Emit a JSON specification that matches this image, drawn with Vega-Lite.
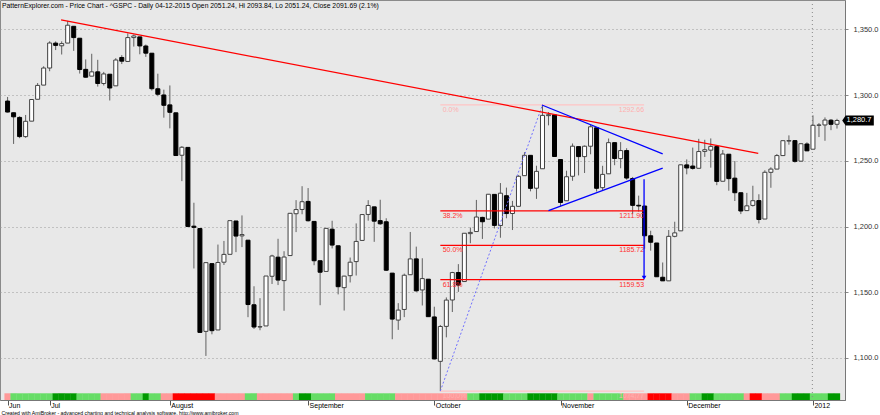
{
  "$schema": "https://vega.github.io/schema/vega-lite/v6.json",
  "width": 845,
  "height": 400,
  "autosize": {"type": "none"},
  "padding": {"left": 0, "top": 0, "right": 35, "bottom": 15},
  "background": "white",
  "title": {
    "text": "PatternExplorer.com - Price Chart - ^GSPC - Daily 04-12-2015 Open 2051.24, Hi 2093.84, Lo 2051.24, Close 2091.69 (2.1%)",
    "anchor": "start", "frame": "group", "orient": "top", "offset": -15, "baseline": "alphabetic",
    "fontSize": 6.8, "fontWeight": "normal", "font": "Liberation Sans", "color": "#000", "dx": 2
  },
  "datasets": {
    "px": [
      {"d":"2011-06-22","i":0,"o":1295.48,"h":1298.61,"l":1286.79,"c":1287.14,"t":"d"},
      {"d":"2011-06-23","i":1,"o":1286.60,"h":1286.79,"l":1262.87,"c":1283.50,"t":"u"},
      {"d":"2011-06-24","i":2,"o":1283.04,"h":1283.93,"l":1267.24,"c":1268.45,"t":"u"},
      {"d":"2011-06-27","i":3,"o":1268.44,"h":1284.91,"l":1267.53,"c":1280.10,"t":"u"},
      {"d":"2011-06-28","i":4,"o":1280.21,"h":1296.80,"l":1280.21,"c":1296.67,"t":"u"},
      {"d":"2011-06-29","i":5,"o":1296.85,"h":1309.21,"l":1296.85,"c":1307.41,"t":"u"},
      {"d":"2011-06-30","i":6,"o":1307.64,"h":1321.97,"l":1307.64,"c":1320.64,"t":"u"},
      {"d":"2011-07-01","i":7,"o":1320.64,"h":1341.01,"l":1318.18,"c":1339.67,"t":"u"},
      {"d":"2011-07-05","i":8,"o":1339.59,"h":1340.89,"l":1334.30,"c":1337.88,"t":"U"},
      {"d":"2011-07-06","i":9,"o":1337.56,"h":1340.94,"l":1330.92,"c":1339.22,"t":"U"},
      {"d":"2011-07-07","i":10,"o":1339.62,"h":1356.48,"l":1339.62,"c":1353.22,"t":"U"},
      {"d":"2011-07-08","i":11,"o":1352.39,"h":1352.39,"l":1333.71,"c":1343.80,"t":"U"},
      {"d":"2011-07-11","i":12,"o":1343.31,"h":1343.31,"l":1316.42,"c":1319.49,"t":"u"},
      {"d":"2011-07-12","i":13,"o":1319.61,"h":1327.17,"l":1313.33,"c":1313.64,"t":"u"},
      {"d":"2011-07-13","i":14,"o":1314.45,"h":1331.48,"l":1314.45,"c":1317.72,"t":"u"},
      {"d":"2011-07-14","i":15,"o":1317.74,"h":1326.88,"l":1306.51,"c":1308.87,"t":"u"},
      {"d":"2011-07-15","i":16,"o":1308.87,"h":1317.70,"l":1307.35,"c":1316.14,"t":"d"},
      {"d":"2011-07-18","i":17,"o":1315.94,"h":1315.94,"l":1295.92,"c":1305.44,"t":"d"},
      {"d":"2011-07-19","i":18,"o":1307.07,"h":1328.14,"l":1307.07,"c":1326.73,"t":"d"},
      {"d":"2011-07-20","i":19,"o":1328.66,"h":1330.43,"l":1323.65,"c":1325.84,"t":"d"},
      {"d":"2011-07-21","i":20,"o":1325.65,"h":1347.00,"l":1325.65,"c":1343.80,"t":"d"},
      {"d":"2011-07-22","i":21,"o":1343.80,"h":1346.10,"l":1336.95,"c":1345.02,"t":"u"},
      {"d":"2011-07-25","i":22,"o":1344.32,"h":1344.32,"l":1331.09,"c":1337.43,"t":"u"},
      {"d":"2011-07-26","i":23,"o":1337.39,"h":1338.51,"l":1329.10,"c":1331.94,"t":"U"},
      {"d":"2011-07-27","i":24,"o":1331.91,"h":1331.91,"l":1303.49,"c":1304.89,"t":"u"},
      {"d":"2011-07-28","i":25,"o":1304.84,"h":1316.32,"l":1299.16,"c":1300.67,"t":"u"},
      {"d":"2011-07-29","i":26,"o":1300.12,"h":1304.16,"l":1282.86,"c":1292.28,"t":"d"},
      {"d":"2011-08-01","i":27,"o":1292.59,"h":1307.38,"l":1274.73,"c":1286.94,"t":"d"},
      {"d":"2011-08-02","i":28,"o":1286.56,"h":1286.56,"l":1254.03,"c":1254.05,"t":"D"},
      {"d":"2011-08-03","i":29,"o":1254.25,"h":1261.20,"l":1234.56,"c":1260.34,"t":"D"},
      {"d":"2011-08-04","i":30,"o":1260.23,"h":1260.23,"l":1199.54,"c":1200.07,"t":"D"},
      {"d":"2011-08-05","i":31,"o":1200.28,"h":1218.11,"l":1168.09,"c":1199.38,"t":"D"},
      {"d":"2011-08-08","i":32,"o":1198.48,"h":1198.48,"l":1119.28,"c":1119.46,"t":"D"},
      {"d":"2011-08-09","i":33,"o":1120.23,"h":1172.88,"l":1101.54,"c":1172.53,"t":"D"},
      {"d":"2011-08-10","i":34,"o":1171.77,"h":1171.77,"l":1118.01,"c":1120.76,"t":"D"},
      {"d":"2011-08-11","i":35,"o":1121.30,"h":1186.29,"l":1121.30,"c":1172.64,"t":"d"},
      {"d":"2011-08-12","i":36,"o":1172.87,"h":1189.04,"l":1170.74,"c":1178.81,"t":"d"},
      {"d":"2011-08-15","i":37,"o":1178.86,"h":1204.49,"l":1178.86,"c":1204.49,"t":"d"},
      {"d":"2011-08-16","i":38,"o":1204.22,"h":1204.22,"l":1180.53,"c":1192.76,"t":"d"},
      {"d":"2011-08-17","i":39,"o":1192.89,"h":1208.47,"l":1184.36,"c":1193.89,"t":"d"},
      {"d":"2011-08-18","i":40,"o":1189.62,"h":1189.62,"l":1131.03,"c":1140.65,"t":"u"},
      {"d":"2011-08-19","i":41,"o":1140.47,"h":1154.54,"l":1122.05,"c":1123.53,"t":"u"},
      {"d":"2011-08-22","i":42,"o":1123.55,"h":1145.49,"l":1121.09,"c":1123.82,"t":"d"},
      {"d":"2011-08-23","i":43,"o":1124.36,"h":1162.35,"l":1124.36,"c":1162.35,"t":"d"},
      {"d":"2011-08-24","i":44,"o":1162.16,"h":1178.56,"l":1156.30,"c":1177.60,"t":"d"},
      {"d":"2011-08-25","i":45,"o":1176.69,"h":1190.68,"l":1155.47,"c":1159.27,"t":"d"},
      {"d":"2011-08-26","i":46,"o":1158.85,"h":1181.23,"l":1135.91,"c":1176.80,"t":"d"},
      {"d":"2011-08-29","i":47,"o":1177.91,"h":1210.28,"l":1177.91,"c":1210.08,"t":"d"},
      {"d":"2011-08-30","i":48,"o":1209.76,"h":1220.10,"l":1195.77,"c":1212.92,"t":"u"},
      {"d":"2011-08-31","i":49,"o":1213.00,"h":1230.71,"l":1209.35,"c":1218.89,"t":"U"},
      {"d":"2011-09-01","i":50,"o":1219.12,"h":1229.29,"l":1203.85,"c":1204.42,"t":"U"},
      {"d":"2011-09-02","i":51,"o":1203.90,"h":1203.90,"l":1170.56,"c":1173.97,"t":"u"},
      {"d":"2011-09-06","i":52,"o":1173.97,"h":1173.97,"l":1140.13,"c":1165.24,"t":"u"},
      {"d":"2011-09-07","i":53,"o":1165.85,"h":1198.62,"l":1165.85,"c":1198.62,"t":"u"},
      {"d":"2011-09-08","i":54,"o":1197.98,"h":1204.40,"l":1183.34,"c":1185.90,"t":"u"},
      {"d":"2011-09-09","i":55,"o":1185.37,"h":1185.37,"l":1148.37,"c":1154.23,"t":"d"},
      {"d":"2011-09-12","i":56,"o":1153.50,"h":1162.52,"l":1136.07,"c":1162.27,"t":"d"},
      {"d":"2011-09-13","i":57,"o":1162.59,"h":1176.41,"l":1157.44,"c":1172.87,"t":"d"},
      {"d":"2011-09-14","i":58,"o":1173.32,"h":1202.38,"l":1162.73,"c":1188.68,"t":"d"},
      {"d":"2011-09-15","i":59,"o":1189.44,"h":1209.11,"l":1189.44,"c":1209.11,"t":"d"},
      {"d":"2011-09-16","i":60,"o":1209.21,"h":1220.06,"l":1204.46,"c":1216.01,"t":"u"},
      {"d":"2011-09-19","i":61,"o":1214.99,"h":1214.99,"l":1188.36,"c":1204.09,"t":"u"},
      {"d":"2011-09-20","i":62,"o":1204.50,"h":1220.39,"l":1201.29,"c":1202.09,"t":"u"},
      {"d":"2011-09-21","i":63,"o":1203.63,"h":1206.30,"l":1166.21,"c":1166.76,"t":"u"},
      {"d":"2011-09-22","i":64,"o":1164.55,"h":1164.55,"l":1114.22,"c":1129.56,"t":"u"},
      {"d":"2011-09-23","i":65,"o":1128.82,"h":1141.72,"l":1121.36,"c":1136.43,"t":"d"},
      {"d":"2011-09-26","i":66,"o":1136.91,"h":1164.19,"l":1131.07,"c":1162.95,"t":"d"},
      {"d":"2011-09-27","i":67,"o":1163.32,"h":1195.86,"l":1163.32,"c":1175.38,"t":"d"},
      {"d":"2011-09-28","i":68,"o":1175.39,"h":1184.71,"l":1150.40,"c":1151.06,"t":"d"},
      {"d":"2011-09-29","i":69,"o":1151.74,"h":1175.87,"l":1139.93,"c":1160.40,"t":"d"},
      {"d":"2011-09-30","i":70,"o":1159.93,"h":1159.93,"l":1131.34,"c":1131.42,"t":"d"},
      {"d":"2011-10-03","i":71,"o":1131.21,"h":1138.99,"l":1098.92,"c":1099.23,"t":"d"},
      {"d":"2011-10-04","i":72,"o":1097.42,"h":1125.12,"l":1074.77,"c":1123.95,"t":"d"},
      {"d":"2011-10-05","i":73,"o":1124.03,"h":1146.07,"l":1115.68,"c":1144.03,"t":"d"},
      {"d":"2011-10-06","i":74,"o":1144.11,"h":1165.55,"l":1134.95,"c":1164.97,"t":"d"},
      {"d":"2011-10-07","i":75,"o":1165.03,"h":1171.40,"l":1150.26,"c":1155.46,"t":"d"},
      {"d":"2011-10-10","i":76,"o":1158.15,"h":1194.91,"l":1158.15,"c":1194.89,"t":"d"},
      {"d":"2011-10-11","i":77,"o":1194.60,"h":1199.24,"l":1187.30,"c":1195.54,"t":"u"},
      {"d":"2011-10-12","i":78,"o":1196.19,"h":1220.25,"l":1196.19,"c":1207.25,"t":"u"},
      {"d":"2011-10-13","i":79,"o":1206.96,"h":1207.46,"l":1190.58,"c":1203.66,"t":"U"},
      {"d":"2011-10-14","i":80,"o":1205.65,"h":1224.61,"l":1205.65,"c":1224.58,"t":"U"},
      {"d":"2011-10-17","i":81,"o":1224.47,"h":1224.47,"l":1198.55,"c":1200.86,"t":"U"},
      {"d":"2011-10-18","i":82,"o":1200.75,"h":1233.10,"l":1191.48,"c":1225.38,"t":"U"},
      {"d":"2011-10-19","i":83,"o":1223.46,"h":1229.64,"l":1206.31,"c":1209.88,"t":"u"},
      {"d":"2011-10-20","i":84,"o":1209.92,"h":1219.53,"l":1197.34,"c":1215.39,"t":"u"},
      {"d":"2011-10-21","i":85,"o":1215.39,"h":1239.03,"l":1215.39,"c":1238.25,"t":"u"},
      {"d":"2011-10-24","i":86,"o":1238.72,"h":1256.55,"l":1238.72,"c":1254.19,"t":"u"},
      {"d":"2011-10-25","i":87,"o":1254.19,"h":1254.19,"l":1226.79,"c":1229.05,"t":"U"},
      {"d":"2011-10-26","i":88,"o":1229.17,"h":1246.28,"l":1221.06,"c":1242.00,"t":"U"},
      {"d":"2011-10-27","i":89,"o":1243.97,"h":1292.66,"l":1243.97,"c":1284.59,"t":"U"},
      {"d":"2011-10-28","i":90,"o":1284.39,"h":1287.08,"l":1277.01,"c":1285.09,"t":"U"},
      {"d":"2011-10-31","i":91,"o":1284.96,"h":1284.96,"l":1253.16,"c":1253.30,"t":"U"},
      {"d":"2011-11-01","i":92,"o":1251.00,"h":1251.00,"l":1215.42,"c":1218.28,"t":"u"},
      {"d":"2011-11-02","i":93,"o":1219.62,"h":1242.48,"l":1219.62,"c":1237.90,"t":"u"},
      {"d":"2011-11-03","i":94,"o":1238.25,"h":1263.21,"l":1234.81,"c":1261.15,"t":"u"},
      {"d":"2011-11-04","i":95,"o":1260.82,"h":1260.82,"l":1238.92,"c":1253.23,"t":"u"},
      {"d":"2011-11-07","i":96,"o":1253.21,"h":1261.70,"l":1240.75,"c":1261.12,"t":"u"},
      {"d":"2011-11-08","i":97,"o":1261.12,"h":1277.55,"l":1254.99,"c":1275.92,"t":"d"},
      {"d":"2011-11-09","i":98,"o":1275.18,"h":1275.18,"l":1226.64,"c":1229.10,"t":"u"},
      {"d":"2011-11-10","i":99,"o":1229.59,"h":1246.22,"l":1227.70,"c":1239.70,"t":"u"},
      {"d":"2011-11-11","i":100,"o":1240.12,"h":1266.98,"l":1240.12,"c":1263.85,"t":"u"},
      {"d":"2011-11-14","i":101,"o":1263.85,"h":1263.85,"l":1246.68,"c":1251.78,"t":"u"},
      {"d":"2011-11-15","i":102,"o":1251.70,"h":1264.25,"l":1244.34,"c":1257.81,"t":"u"},
      {"d":"2011-11-16","i":103,"o":1257.81,"h":1259.61,"l":1235.67,"c":1236.91,"t":"d"},
      {"d":"2011-11-17","i":104,"o":1236.56,"h":1237.73,"l":1209.43,"c":1216.13,"t":"d"},
      {"d":"2011-11-18","i":105,"o":1216.19,"h":1223.51,"l":1211.36,"c":1215.65,"t":"d"},
      {"d":"2011-11-21","i":106,"o":1215.62,"h":1215.62,"l":1183.16,"c":1192.98,"t":"d"},
      {"d":"2011-11-22","i":107,"o":1192.98,"h":1196.81,"l":1181.65,"c":1188.04,"t":"D"},
      {"d":"2011-11-23","i":108,"o":1187.48,"h":1187.48,"l":1161.79,"c":1161.79,"t":"D"},
      {"d":"2011-11-25","i":109,"o":1161.41,"h":1172.66,"l":1158.66,"c":1158.67,"t":"D"},
      {"d":"2011-11-28","i":110,"o":1158.67,"h":1197.35,"l":1158.67,"c":1192.55,"t":"D"},
      {"d":"2011-11-29","i":111,"o":1192.56,"h":1203.67,"l":1191.80,"c":1195.19,"t":"d"},
      {"d":"2011-11-30","i":112,"o":1196.72,"h":1247.11,"l":1196.72,"c":1246.96,"t":"d"},
      {"d":"2011-12-01","i":113,"o":1246.91,"h":1251.09,"l":1239.73,"c":1244.58,"t":"d"},
      {"d":"2011-12-02","i":114,"o":1246.03,"h":1260.08,"l":1243.35,"c":1244.28,"t":"u"},
      {"d":"2011-12-05","i":115,"o":1244.33,"h":1266.73,"l":1244.33,"c":1257.08,"t":"u"},
      {"d":"2011-12-06","i":116,"o":1257.19,"h":1266.03,"l":1253.03,"c":1258.47,"t":"U"},
      {"d":"2011-12-07","i":117,"o":1258.14,"h":1267.06,"l":1244.80,"c":1261.01,"t":"U"},
      {"d":"2011-12-08","i":118,"o":1260.87,"h":1260.87,"l":1231.47,"c":1234.35,"t":"u"},
      {"d":"2011-12-09","i":119,"o":1234.48,"h":1258.25,"l":1234.48,"c":1255.19,"t":"u"},
      {"d":"2011-12-12","i":120,"o":1255.05,"h":1255.05,"l":1227.25,"c":1236.47,"t":"u"},
      {"d":"2011-12-13","i":121,"o":1236.83,"h":1249.86,"l":1219.43,"c":1225.73,"t":"u"},
      {"d":"2011-12-14","i":122,"o":1225.73,"h":1225.73,"l":1209.47,"c":1211.82,"t":"u"},
      {"d":"2011-12-15","i":123,"o":1212.12,"h":1225.60,"l":1212.12,"c":1215.75,"t":"d"},
      {"d":"2011-12-16","i":124,"o":1216.09,"h":1231.04,"l":1215.20,"c":1219.66,"t":"D"},
      {"d":"2011-12-19","i":125,"o":1219.74,"h":1224.57,"l":1202.37,"c":1205.35,"t":"D"},
      {"d":"2011-12-20","i":126,"o":1205.72,"h":1242.82,"l":1205.72,"c":1241.30,"t":"d"},
      {"d":"2011-12-21","i":127,"o":1241.25,"h":1245.09,"l":1229.51,"c":1243.72,"t":"d"},
      {"d":"2011-12-22","i":128,"o":1243.72,"h":1255.22,"l":1243.72,"c":1254.00,"t":"d"},
      {"d":"2011-12-23","i":129,"o":1254.00,"h":1265.42,"l":1254.00,"c":1265.33,"t":"u"},
      {"d":"2011-12-27","i":130,"o":1265.02,"h":1269.37,"l":1262.30,"c":1265.43,"t":"u"},
      {"d":"2011-12-28","i":131,"o":1265.38,"h":1265.85,"l":1248.64,"c":1249.64,"t":"U"},
      {"d":"2011-12-29","i":132,"o":1249.75,"h":1263.54,"l":1249.75,"c":1263.02,"t":"U"},
      {"d":"2011-12-30","i":133,"o":1262.82,"h":1264.12,"l":1257.46,"c":1257.60,"t":"U"},
      {"d":"2012-01-03","i":134,"o":1258.86,"h":1284.62,"l":1258.86,"c":1277.06,"t":"u"},
      {"d":"2012-01-04","i":135,"o":1277.03,"h":1278.73,"l":1268.10,"c":1277.30,"t":"u"},
      {"d":"2012-01-05","i":136,"o":1277.30,"h":1283.05,"l":1265.26,"c":1281.06,"t":"u"},
      {"d":"2012-01-06","i":137,"o":1280.93,"h":1281.84,"l":1273.34,"c":1277.81,"t":"U"},
      {"d":"2012-01-09","i":138,"o":1277.83,"h":1281.99,"l":1274.55,"c":1280.70,"t":"U"}
    ],
    "trend": [{"i": 8.9, "v": 1357.2}, {"i": 124.9, "v": 1255.6}],
    "tri": [
      {"id": "upper", "i": 88.9, "v": 1292.5}, {"id": "upper", "i": 109.0, "v": 1255.3},
      {"id": "lower", "i": 90.0, "v": 1212.1}, {"id": "lower", "i": 109.0, "v": 1244.4}
    ],
    "swing": [{"i": 72, "v": 1074.77}, {"i": 89, "v": 1292.66}],
    "fib": [
      {"p": "0.0%", "v": 1292.66, "lab": "1292.66", "k": "edge"},
      {"p": "38.2%", "v": 1211.90, "lab": "1211.90", "k": "in"},
      {"p": "50.0%", "v": 1185.72, "lab": "1185.72", "k": "in"},
      {"p": "61.8%", "v": 1159.53, "lab": "1159.53", "k": "in"},
      {"p": "100.0%", "v": 1074.77, "lab": "1074.77", "k": "edge"}
    ],
    "target": [{"i": 105.9, "from": 1236.0, "to": 1161.0}],
    "last": [{"v": 1280.7, "lab": "1,280.7"}]
  },
  "layer": [
    {
      "data": {"name": "px"},
      "mark": {"type": "bar", "size": 6.3},
      "encoding": {
        "x": {
          "field": "i", "type": "quantitative",
          "scale": {"domain": [-0.43, 138.5], "nice": false, "zero": false},
          "axis": {
            "values": [0, 7, 27, 50, 71, 92, 113, 134],
            "labelExpr": "datum.value==0?'Jun':datum.value==7?'Jul':datum.value==27?'August':datum.value==50?'September':datum.value==71?'October':datum.value==92?'November':datum.value==113?'December':'2012'",
            "labelAlign": "left", "labelOffset": 1, "labelBaseline": "top", "labelPadding": -4,
            "tickSize": 5, "tickColor": "#555", "domainColor": "#777",
            "labelFontSize": 7, "labelColor": "#000", "grid": false, "labelFlush": false, "labelOverlap": false,
            "title": "Created with AmiBroker - advanced charting and technical analysis software. http://www.amibroker.com",
            "titleFontSize": 5.2, "titleFontWeight": "normal", "titleAnchor": "start", "titleAlign": "left",
            "titleX": 1, "titleY": 14, "titleBaseline": "alphabetic", "titleColor": "#000"
          }
        },
        "y": {
          "datum": 1068, "type": "quantitative",
          "scale": {"domain": [1068, 1372.4], "nice": false, "zero": false},
          "axis": {
            "orient": "right", "values": [1100, 1150, 1200, 1250, 1300, 1350], "format": ",.1f",
            "grid": true, "gridDash": [1, 3], "gridColor": "#9a9a9a",
            "tickSize": 3, "tickColor": "#888", "domainColor": "#777",
            "labelFontSize": 7.5, "labelColor": "#333", "labelPadding": 5, "title": null
          }
        },
        "y2": {"datum": 1073.1},
        "color": {
          "field": "t", "type": "nominal",
          "scale": {"domain": ["u", "U", "d", "D"], "range": ["#66dd66", "#009900", "#ff9999", "#ff0000"]},
          "legend": null
        }
      }
    },
    {
      "data": {"values": [{}]},
      "mark": {"type": "rule", "strokeDash": [1, 3], "color": "#888"},
      "encoding": {"x": {"datum": 133.9, "type": "quantitative"}}
    },
    {
      "data": {"name": "px"},
      "mark": {"type": "rule", "color": "#606060", "strokeWidth": 1},
      "encoding": {
        "x": {"field": "i", "type": "quantitative"},
        "y": {"field": "l", "type": "quantitative"},
        "y2": {"field": "h"}
      }
    },
    {
      "data": {"name": "px"},
      "mark": {"type": "bar", "size": 4, "strokeWidth": 1},
      "encoding": {
        "x": {"field": "i", "type": "quantitative"},
        "y": {"field": "o", "type": "quantitative"},
        "y2": {"field": "c"},
        "fill": {"condition": {"test": "datum.c < datum.o", "value": "#000000"}, "value": "#ffffff"},
        "stroke": {"condition": {"test": "datum.c < datum.o", "value": "#000000"}, "value": "#404040"}
      }
    },
    {
      "data": {"name": "fib"},
      "mark": {"type": "rule", "strokeWidth": 1.2},
      "encoding": {
        "x": {"datum": 72, "type": "quantitative"},
        "x2": {"datum": 105.9},
        "y": {"field": "v", "type": "quantitative"},
        "color": {"condition": {"test": "datum.k == 'edge'", "value": "#ffc4c4"}, "value": "#ff0000"}
      }
    },
    {
      "data": {"name": "fib"},
      "mark": {"type": "text", "align": "left", "baseline": "middle", "dy": 5, "fontSize": 7, "font": "Liberation Sans"},
      "encoding": {
        "x": {"datum": 72.4, "type": "quantitative"},
        "y": {"field": "v", "type": "quantitative"},
        "text": {"field": "p"},
        "color": {"condition": {"test": "datum.k == 'edge'", "value": "#ffb0b0"}, "value": "#ff3030"}
      }
    },
    {
      "data": {"name": "fib"},
      "mark": {"type": "text", "align": "right", "baseline": "middle", "dy": 5, "fontSize": 7, "font": "Liberation Sans"},
      "encoding": {
        "x": {"datum": 105.9, "type": "quantitative"},
        "y": {"field": "v", "type": "quantitative"},
        "text": {"field": "lab"},
        "color": {"condition": {"test": "datum.k == 'edge'", "value": "#ffb0b0"}, "value": "#ff3030"}
      }
    },
    {
      "data": {"name": "swing"},
      "mark": {"type": "line", "strokeDash": [2, 2], "color": "#7070ff", "strokeWidth": 1},
      "encoding": {
        "x": {"field": "i", "type": "quantitative"},
        "y": {"field": "v", "type": "quantitative"}
      }
    },
    {
      "data": {"name": "trend"},
      "mark": {"type": "line", "color": "#ff0000", "strokeWidth": 1.3},
      "encoding": {
        "x": {"field": "i", "type": "quantitative"},
        "y": {"field": "v", "type": "quantitative"}
      }
    },
    {
      "data": {"name": "tri"},
      "mark": {"type": "line", "color": "#0000ff", "strokeWidth": 1.3},
      "encoding": {
        "x": {"field": "i", "type": "quantitative"},
        "y": {"field": "v", "type": "quantitative"},
        "detail": {"field": "id"}
      }
    },
    {
      "data": {"name": "target"},
      "mark": {"type": "rule", "color": "#0000ff", "strokeWidth": 1.3},
      "encoding": {
        "x": {"field": "i", "type": "quantitative"},
        "y": {"field": "from", "type": "quantitative"},
        "y2": {"field": "to"}
      }
    },
    {
      "data": {"name": "target"},
      "mark": {"type": "point", "shape": "triangle-down", "filled": true, "color": "#0000ff", "size": 22, "opacity": 1},
      "encoding": {
        "x": {"field": "i", "type": "quantitative"},
        "y": {"field": "to", "type": "quantitative"}
      }
    },
    {
      "data": {"name": "last"},
      "mark": {"type": "point", "shape": "M -1 0 L -0.78 -0.32 L 1 -0.32 L 1 0.32 L -0.78 0.32 Z", "filled": true, "color": "#000", "size": 1000, "opacity": 1},
      "encoding": {
        "x": {"datum": 141.5, "type": "quantitative"},
        "y": {"field": "v", "type": "quantitative"}
      }
    },
    {
      "data": {"name": "last"},
      "mark": {"type": "text", "color": "#fff", "fontSize": 7.5, "font": "Liberation Sans", "align": "center", "baseline": "middle", "dx": 1},
      "encoding": {
        "x": {"datum": 141.5, "type": "quantitative"},
        "y": {"field": "v", "type": "quantitative"},
        "text": {"field": "lab"}
      }
    }
  ],
  "config": {
    "view": {"fill": "#e8e8e8", "stroke": "#8a8a8a"},
    "font": "Liberation Sans",
    "axis": {"labelFont": "Liberation Sans", "titleFont": "Liberation Sans"}
  }
}
